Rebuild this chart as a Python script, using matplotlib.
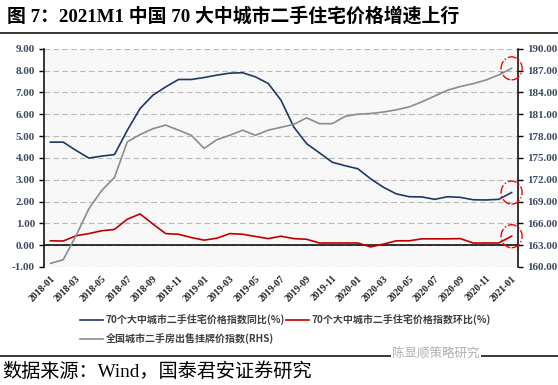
import matplotlib
matplotlib.use('Agg')
import matplotlib.pyplot as plt
from matplotlib.patches import Ellipse, Rectangle
from matplotlib.transforms import IdentityTransform
from matplotlib.lines import Line2D

plt.rcParams['font.family'] = ['Liberation Serif', 'Noto Sans CJK SC', 'DejaVu Sans']
plt.rcParams['hatch.linewidth'] = 0.6

# monthly data, 2018-01 .. 2021-01
months = [f"{y}-{m:02d}" for y in (2018, 2019, 2020) for m in range(1, 13)] + ["2021-01"]

yoy = [4.72, 4.72, 4.34, 3.99, 4.08, 4.15, 5.26, 6.26, 6.87, 7.25, 7.59, 7.59,
       7.68, 7.79, 7.88, 7.90, 7.71, 7.41, 6.64, 5.41, 4.65, 4.23, 3.80, 3.64,
       3.50, 3.04, 2.65, 2.35, 2.22, 2.21, 2.10, 2.22, 2.19, 2.08, 2.07, 2.10, 2.41]
mom = [0.20, 0.19, 0.43, 0.53, 0.66, 0.72, 1.19, 1.43, 0.97, 0.53, 0.50, 0.35,
       0.23, 0.32, 0.53, 0.50, 0.40, 0.30, 0.41, 0.30, 0.27, 0.10, 0.10, 0.10,
       0.10, -0.08, 0.05, 0.20, 0.20, 0.29, 0.29, 0.29, 0.30, 0.10, 0.10, 0.10, 0.41]
rhs = [160.5, 161.0, 164.3, 168.0, 170.5, 172.3, 177.2, 178.2, 179.0, 179.5, 178.8, 178.1,
       176.3, 177.5, 178.1, 178.8, 178.1, 178.8, 179.2, 179.6, 180.5, 179.7, 179.7, 180.7,
       181.0, 181.1, 181.3, 181.6, 182.0, 182.7, 183.5, 184.3, 184.8, 185.2, 185.7, 186.4, 187.3]

labels = ["70个大中城市二手住宅价格指数同比(%)",
          "70个大中城市二手住宅价格指数环比(%)",
          "全国城市二手房出售挂牌价指数(RHS)"]
title = "图 7：2021M1 中国 70 大中城市二手住宅价格增速上行"
source = "数据来源：Wind，国泰君安证券研究"

c_blue = '#1f3864'
c_red = '#c00000'
c_gray = '#8c8c8c'
tick_c = '#3e4a63'

fig = plt.figure(figsize=(5.58, 3.85), dpi=100)
ax = fig.add_axes([44/558, 1-267/385, 474/558, (267-48.7)/385])
ax2 = ax.twinx()

x = list(range(len(months)))

# hatched background (light upward diagonal)
ax.add_patch(Rectangle((0, 0), 1, 1, transform=ax.transAxes, facecolor='none',
                       edgecolor='#ececec', hatch='/' * 10, lw=0, zorder=0))

ax.set_ylim(-1, 9)
ax.set_yticks(range(-1, 10))
ax.set_yticklabels([f"{v:.2f}" for v in range(-1, 10)])
ax2.set_ylim(160, 190)
ax2.set_yticks(range(160, 191, 3))
ax2.set_yticklabels([f"{v:.2f}" for v in range(160, 191, 3)])
ax.set_xlim(-0.5, len(months) - 0.5)

ax.grid(axis='y', color='#b8b8b8', linestyle=(0, (5, 3)), lw=0.8)
ax.set_axisbelow(True)
ax.axhline(0, color='black', lw=1.1, zorder=2)

ax.plot(x, yoy, color=c_blue, lw=1.2, zorder=3)
ax.plot(x, mom, color=c_red, lw=1.2, zorder=3)
ax2.plot(x, rhs, color=c_gray, lw=1.2, zorder=3)

ax.set_xticks(x[::2])
ax.set_xticklabels(months[::2], rotation=45, ha='right', rotation_mode='anchor')
ax.tick_params(axis='x', length=0, pad=5, labelsize=7)
for t in ax.get_xticklabels():
    t.set_fontweight('bold')
    t.set_color('#222222')

ax.tick_params(axis='y', direction='out', length=3.5, width=1, pad=3, labelsize=8, colors='black')
ax2.tick_params(axis='y', direction='out', length=3.5, width=1, pad=3, labelsize=8, colors='black')
for t in ax.get_yticklabels() + ax2.get_yticklabels():
    t.set_fontweight('bold')
    t.set_color(tick_c)

for a in (ax, ax2):
    a.spines['top'].set_visible(False)
    a.spines['bottom'].set_visible(False)
ax.spines['right'].set_visible(False)
ax2.spines['left'].set_visible(False)
ax.spines['left'].set_linewidth(1.1)
ax2.spines['right'].set_linewidth(1.1)

# red dash-dot circles around the latest points
marks = [(ax2, rhs[-1]), (ax, yoy[-1]), (ax, mom[-1])]
for a, v in marks:
    px, py = a.transData.transform((x[-1], v))
    fig.add_artist(Ellipse((px, py), 21, 23, transform=IdentityTransform(),
                           fill=False, edgecolor='red', lw=1, linestyle='-.', zorder=5))

h_blue = Line2D([], [], color=c_blue, lw=1.2)
h_red = Line2D([], [], color=c_red, lw=1.2)
h_gray = Line2D([], [], color=c_gray, lw=1.2)
# column-major fill: blue/gray in col 1, red in col 2
leg = fig.legend([h_blue, h_gray, h_red], [labels[0], labels[2], labels[1]], ncol=2,
                 loc='upper left', bbox_to_anchor=(80/558, 1-314/385), frameon=False,
                 prop={'family': ['Noto Sans CJK SC'], 'size': 7.2, 'weight': 'bold'},
                 handlelength=2.3, handletextpad=0.25, columnspacing=0.1,
                 labelspacing=0.85, borderpad=0, borderaxespad=0)
for t in leg.get_texts():
    t.set_color('#404040')

# title and source
fig.text(7/558, 1-16/385, title, fontsize=13.6, fontweight='bold', va='center', ha='left')
fig.add_artist(Line2D([0, 1], [1-33/385, 1-33/385], color='black', lw=1.1))
fig.add_artist(Line2D([0, 1], [1-356/385, 1-356/385], color='black', lw=1.1))
fig.text(2/558, 1-372/385, source, fontsize=13.8, va='center', ha='left')
fig.text(392/558, 1-354/385, "陈显顺策略研究", fontsize=9, color='#b0b0b0', va='center', ha='left',
         family=['Noto Sans CJK SC'], bbox=dict(facecolor='white', edgecolor='none', pad=1))

fig.savefig('out.png', dpi=100)
